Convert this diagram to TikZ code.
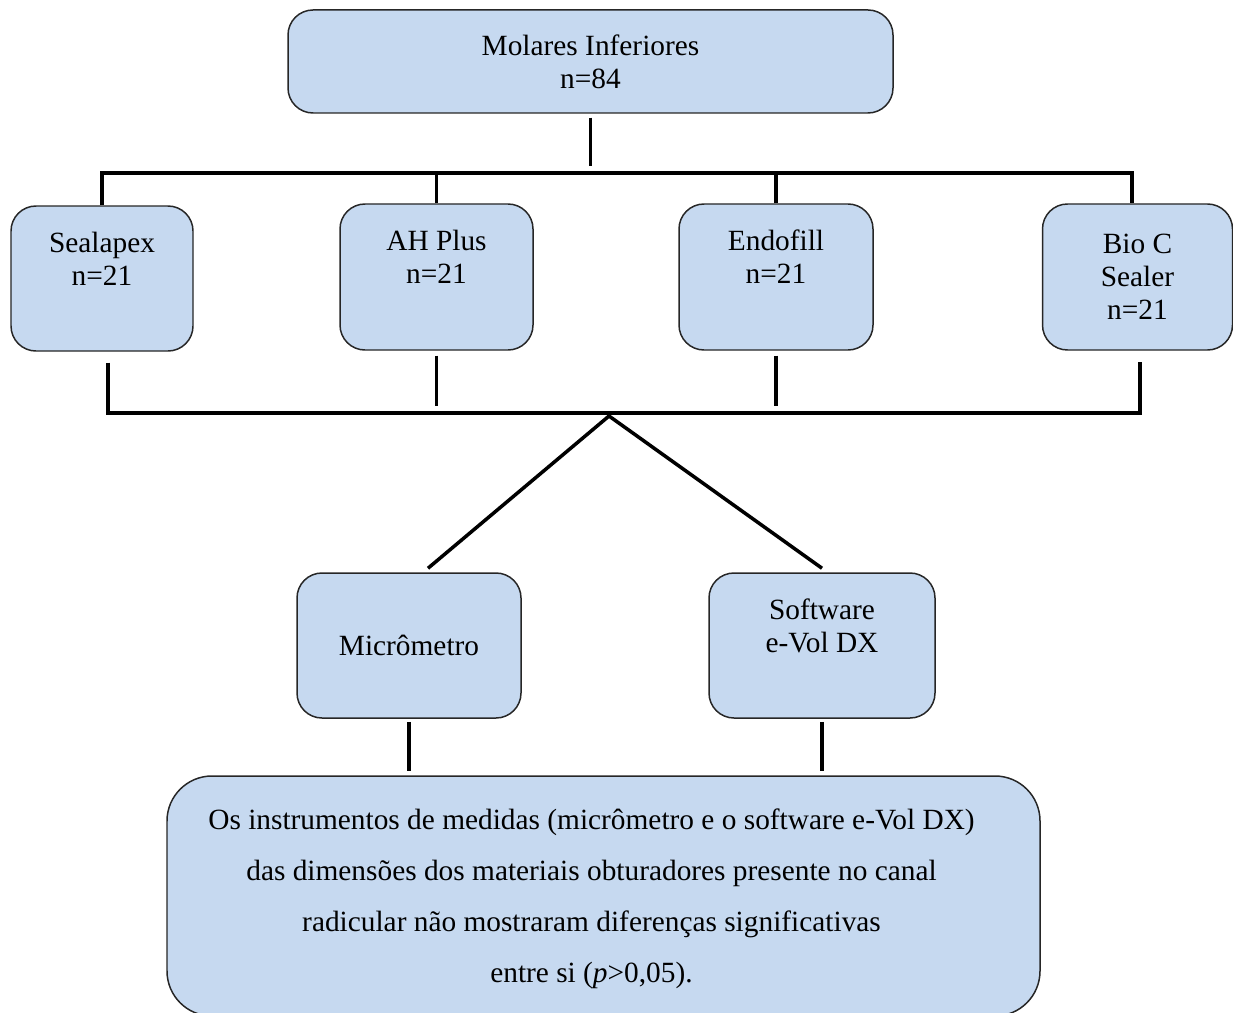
\documentclass[tikz,border=0pt]{standalone}
\usepackage{fontspec}
\setmainfont{Liberation Serif}
\definecolor{azulcaixa}{RGB}{198,217,240}

\begin{document}
\begin{tikzpicture}
	\tikzstyle{every node} = [font=\fontsize{16.7}{18.8}\selectfont]
	\tikzstyle{caixa} = [draw=black!85, line width=0.85pt, fill=azulcaixa, rounded corners=0.5cm, align=center, inner sep=0pt]
	\tikzstyle{ligacao} = [line width=2pt]
	\useasboundingbox (0,0) rectangle (24.66,-20.24);
	\node[caixa, minimum width=12.1cm, minimum height=2.06cm] (molares) at (11.81,-1.23) {Molares Inferiores\\n=84};
	\node[caixa, minimum width=3.64cm, minimum height=2.9cm] (sealapex) at (2.04,-5.57) {Sealapex\\n=21\\[4pt]\mbox{}};
	\node[caixa, minimum width=3.86cm, minimum height=2.92cm] (ahplus) at (8.73,-5.54) {AH Plus\\n=21\\[4pt]\mbox{}};
	\node[caixa, minimum width=3.88cm, minimum height=2.92cm] (endofill) at (15.52,-5.54) {Endofill\\n=21\\[4pt]\mbox{}};
	\node[caixa, minimum width=3.8cm, minimum height=2.92cm] (bioc) at (22.75,-5.54) {Bio C\\Sealer\\n=21};
	\node[caixa, minimum width=4.48cm, minimum height=2.9cm] (micro) at (8.18,-12.91) {Micrômetro};
	\node[caixa, minimum width=4.52cm, minimum height=2.9cm] (software) at (16.44,-12.91) {Software\\e-Vol DX\\[4pt]\mbox{}};
	\node[caixa, rounded corners=0.9cm, minimum width=17.46cm, minimum height=4.8cm, font=\fontsize{16.7}{29}\selectfont] (conclusao) at (12.07,-17.92) {\begin{tabular}{@{}c@{}}Os instrumentos de medidas (micrômetro e o software e-Vol DX)\\das dimensões dos materiais obturadores presente no canal\\radicular não mostraram diferenças significativas\\entre si (\textit{p}>0,05).\end{tabular}\hspace*{0.48cm}\mbox{}};
	\coordinate (barrasup) at (11.78,-3.46);
	\coordinate (barrainf) at (12.18,-8.26);
	\coordinate (vertice) at (12.18,-8.32);
	\draw[ligacao, shorten <=0.08cm, shorten >=0.14cm] (molares.south) -- (molares.south |- barrasup);
	\draw[ligacao] (sealapex.north) |- (barrasup) -| ([xshift=-0.11cm]bioc.north);
	\draw[ligacao] (ahplus.north) -- (ahplus.north |- barrasup);
	\draw[ligacao] (endofill.north) -- (endofill.north |- barrasup);
	\draw[ligacao] ([xshift=0.12cm,yshift=-0.22cm]sealapex.south) |- (barrainf) -| ([xshift=0.05cm,yshift=-0.22cm]bioc.south);
	\draw[ligacao, shorten <=0.1cm, shorten >=0.14cm] (ahplus.south) -- (ahplus.south |- barrainf);
	\draw[ligacao, shorten <=0.1cm, shorten >=0.14cm] (endofill.south) -- (endofill.south |- barrainf);
	\draw[ligacao] ([xshift=0.38cm,yshift=0.08cm]micro.north) -- (vertice) -- ([yshift=0.08cm]software.north);
	\draw[ligacao, shorten <=0.06cm, shorten >=0.08cm] (micro.south) -- (micro.south |- conclusao.north);
	\draw[ligacao, shorten <=0.06cm, shorten >=0.08cm] (software.south) -- (software.south |- conclusao.north);
\end{tikzpicture}
\end{document}
